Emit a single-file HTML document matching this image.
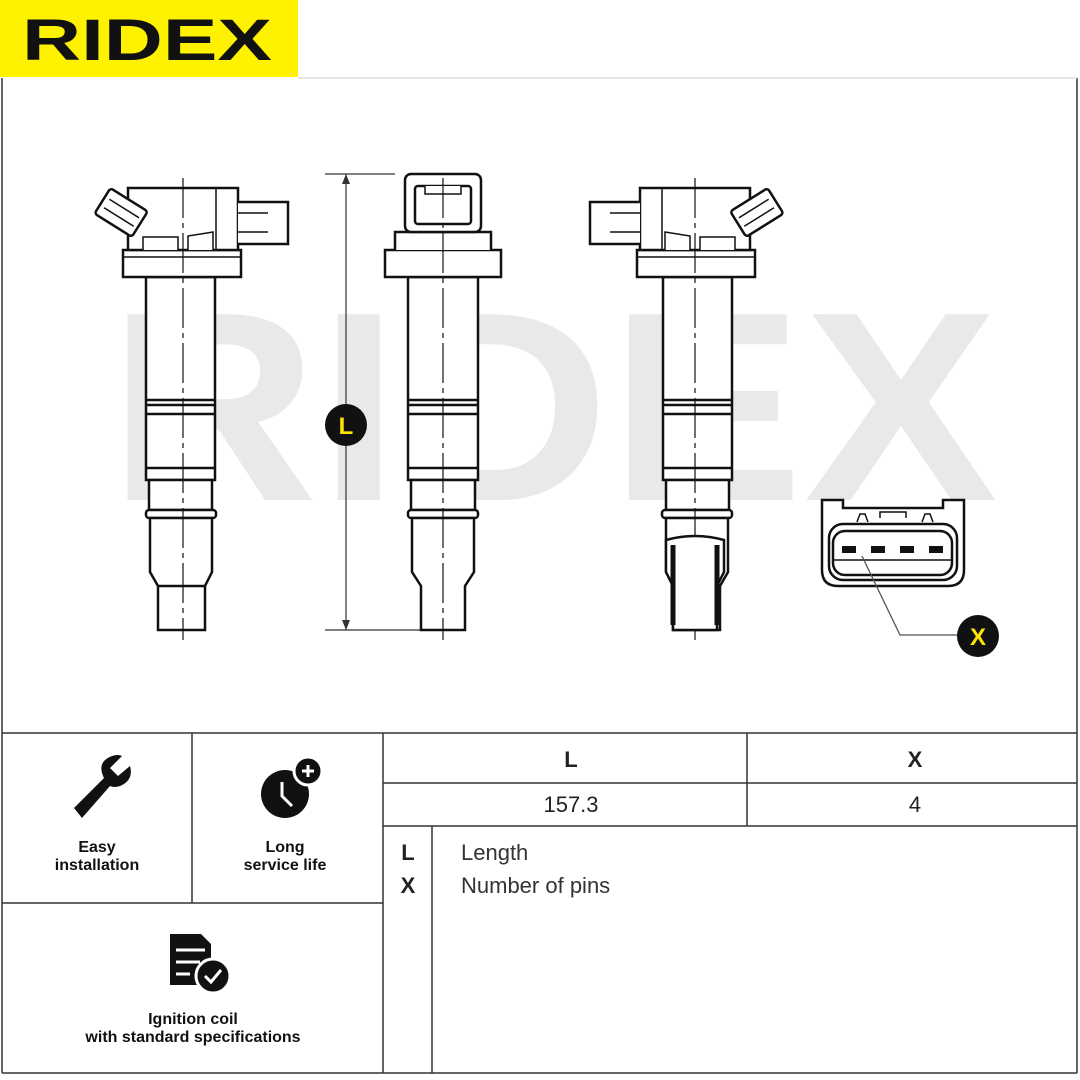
<!DOCTYPE html>
<html><head><meta charset="utf-8"><style>
html,body{margin:0;padding:0;background:#fff}
svg{display:block}
text{font-family:"Liberation Sans",sans-serif}
</style></head><body>
<svg width="1080" height="1080" viewBox="0 0 1080 1080" xmlns="http://www.w3.org/2000/svg">
<defs>
<g id="coil" fill="#fff" stroke="#111" stroke-width="2.5">
  <!-- tube -->
  <rect x="-37" y="277" width="69" height="203"/>
  <line x1="-37" y1="400" x2="32" y2="400"/>
  <line x1="-37" y1="405" x2="32" y2="405"/>
  <line x1="-37" y1="414" x2="32" y2="414"/>
  <line x1="-37" y1="468" x2="32" y2="468"/>
  <rect x="-34" y="480" width="63" height="30"/>
  <rect x="-37" y="510" width="70" height="8" rx="3"/>
  <path d="M-33 518 V572 L-25 586 V630 H22 V586 L29 572 V518 Z"/>
  <line x1="-25" y1="586" x2="22" y2="586"/>
  <!-- flange -->
  <rect x="-60" y="250" width="118" height="27"/>
  <line x1="-60" y1="257" x2="58" y2="257" stroke-width="1.5"/>
  <!-- head -->
  <rect x="-55" y="188" width="110" height="62"/>
  <path d="M-40 250 V237 H-5 V250 M5 250 V236 L30 232 V250" stroke-width="1.5"/>
  <line x1="33" y1="188" x2="33" y2="250" stroke-width="1.5"/>
  <!-- right connector -->
  <path d="M55 202 H105 V244 H55" />
  <path d="M55 213 H85 M55 232 H85" stroke-width="1.5"/>
  <!-- left tilted connector -->
  <g transform="translate(-80 200) rotate(32)">
    <rect x="0" y="-14" width="44" height="30" rx="3"/>
    <line x1="5" y1="-4" x2="40" y2="-4" stroke-width="1.5"/>
    <line x1="5" y1="6" x2="40" y2="6" stroke-width="1.5"/>
  </g>
  <line x1="0" y1="178" x2="0" y2="640" stroke-width="1.2" stroke-dasharray="40 5 5 5"/>
</g>
</defs>
<rect width="1080" height="1080" fill="#fff"/>
<!-- watermark -->
<text x="108" y="500" font-size="270" font-weight="bold" fill="#e9e9e9" textLength="890" lengthAdjust="spacingAndGlyphs">RIDEX</text>
<!-- logo -->
<rect x="0" y="0" width="298" height="77" fill="#fff200"/>
<text x="22" y="60" font-size="58" font-weight="bold" fill="#111" textLength="250" lengthAdjust="spacingAndGlyphs">RIDEX</text>
<!-- frame -->
<g stroke="#333" stroke-width="1.5" fill="none">
<line x1="2" y1="78" x2="2" y2="1073"/>
<line x1="1077" y1="78" x2="1077" y2="1073"/>
<line x1="298" y1="78" x2="1077" y2="78" stroke="#ddd"/>
<line x1="2" y1="733" x2="1077" y2="733"/>
<line x1="2" y1="1073" x2="1077" y2="1073"/>
<line x1="192" y1="733" x2="192" y2="903"/>
<line x1="383" y1="733" x2="383" y2="1073"/>
<line x1="432" y1="826" x2="432" y2="1073"/>
<line x1="747" y1="733" x2="747" y2="826"/>
<line x1="383" y1="783" x2="1077" y2="783"/>
<line x1="383" y1="826" x2="1077" y2="826"/>
<line x1="2" y1="903" x2="383" y2="903"/>
</g>
<!-- coils -->
<use href="#coil" transform="translate(183 0)"/>
<g transform="translate(443 0)">
  <g fill="#fff" stroke="#111" stroke-width="2.5">
  <rect x="-35" y="277" width="70" height="203"/>
  <line x1="-35" y1="400" x2="35" y2="400"/><line x1="-35" y1="405" x2="35" y2="405"/>
  <line x1="-35" y1="414" x2="35" y2="414"/><line x1="-35" y1="468" x2="35" y2="468"/>
  <rect x="-32" y="480" width="64" height="30"/>
  <rect x="-35" y="510" width="70" height="8" rx="3"/>
  <path d="M-31 518 V572 L-22 586 V630 H22 V586 L31 572 V518 Z"/>
  <rect x="-58" y="250" width="116" height="27"/>
  <path d="M-48 250 V232 H48 V250"/>
  <rect x="-38" y="174" width="76" height="58" rx="6"/>
  <rect x="-28" y="186" width="56" height="38" rx="3"/>
  <path d="M-18 186 V194 H18 V186" stroke-width="1.5"/>
  </g>
  <line x1="0" y1="178" x2="0" y2="640" stroke="#111" stroke-width="1.2" stroke-dasharray="40 5 5 5"/>
</g>
<g transform="translate(695 0) scale(-1 1)"><use href="#coil"/></g>
<!-- hatched tip cover on coil 3 -->
<g transform="translate(695 0)">
<path d="M-29 540 Q0 532 29 540 V572 L22 586 V630 H-22 V586 L-29 572 Z" fill="#fff" stroke="#111" stroke-width="2.5"/>
<path d="M-22 545 V625 M22 545 V625" stroke="#111" stroke-width="5"/>
</g>
<!-- dimension L -->
<g stroke="#333" stroke-width="1.2">
<line x1="325" y1="174" x2="395" y2="174"/>
<line x1="325" y1="630" x2="420" y2="630"/>
<line x1="346" y1="174" x2="346" y2="630"/>
</g>
<path d="M346 174 l-4 10 h8z M346 630 l-4 -10 h8z" fill="#333"/>
<circle cx="346" cy="425" r="21" fill="#111"/>
<text x="346" y="434" font-size="24" font-weight="bold" fill="#ffe600" text-anchor="middle">L</text>
<!-- connector X -->
<g fill="#fff" stroke="#111" stroke-width="2.5">
<path d="M822 500 H843 V508 H943 V500 H964 V570 Q964 586 948 586 H838 Q822 586 822 570 Z"/>
<rect x="829" y="524" width="128" height="56" rx="14"/>
<rect x="833" y="531" width="119" height="44" rx="12"/>
<line x1="833" y1="560" x2="952" y2="560" stroke-width="1.5"/>
<path d="M857 522 l3 -8 h5 l3 8 M880 518 V512 H906 V518 M922 522 l3 -8 h5 l3 8" stroke-width="1.5"/>
</g>
<g fill="#111"><rect x="842" y="546" width="14" height="7"/><rect x="871" y="546" width="14" height="7"/><rect x="900" y="546" width="14" height="7"/><rect x="929" y="546" width="14" height="7"/></g>
<path d="M862 556 L900 635 H958" fill="none" stroke="#555" stroke-width="1.3"/>
<circle cx="978" cy="636" r="21" fill="#111"/>
<text x="978" y="645" font-size="24" font-weight="bold" fill="#ffe600" text-anchor="middle">X</text>
<!-- table text -->
<g font-size="22" fill="#222">
<text x="571" y="767" font-weight="bold" text-anchor="middle">L</text>
<text x="915" y="767" font-weight="bold" text-anchor="middle">X</text>
<text x="571" y="812" text-anchor="middle">157.3</text>
<text x="915" y="812" text-anchor="middle">4</text>
<text x="408" y="860" font-weight="bold" text-anchor="middle">L</text>
<text x="408" y="893" font-weight="bold" text-anchor="middle">X</text>
<text x="461" y="860" fill="#333">Length</text>
<text x="461" y="893" fill="#333">Number of pins</text>
</g>
<g font-size="16" font-weight="bold" fill="#111" text-anchor="middle">
<text x="97" y="852">Easy</text><text x="97" y="870">installation</text>
<text x="285" y="852">Long</text><text x="285" y="870">service life</text>
<text x="193" y="1024">Ignition coil</text><text x="193" y="1042">with standard specifications</text>
</g>
<!-- icons -->
<g fill="#111">
<path d="M74 808 L104 778 Q96 762 112 756 Q118 754 122 756 L110 768 L118 776 L130 766 Q134 780 120 786 Q114 788 110 786 L82 818 Z"/>
<circle cx="285" cy="794" r="24"/>
<circle cx="308" cy="771" r="14" fill="#111" stroke="#fff" stroke-width="3"/>
<path d="M282 782 V796 L292 806" stroke="#fff" stroke-width="3" fill="none"/>
<path d="M302 771 H314 M308 765 V777" stroke="#fff" stroke-width="3"/>
<path d="M170 934 H201 L211 944 V985 H170 Z"/>
<path d="M176 950 H205 M176 962 H200 M176 974 H190" stroke="#fff" stroke-width="3"/>
<circle cx="213" cy="976" r="17" stroke="#fff" stroke-width="3"/>
<path d="M205 976 L211 982 L221 970" stroke="#fff" stroke-width="3" fill="none"/>
</g>
</svg>
</body></html>
